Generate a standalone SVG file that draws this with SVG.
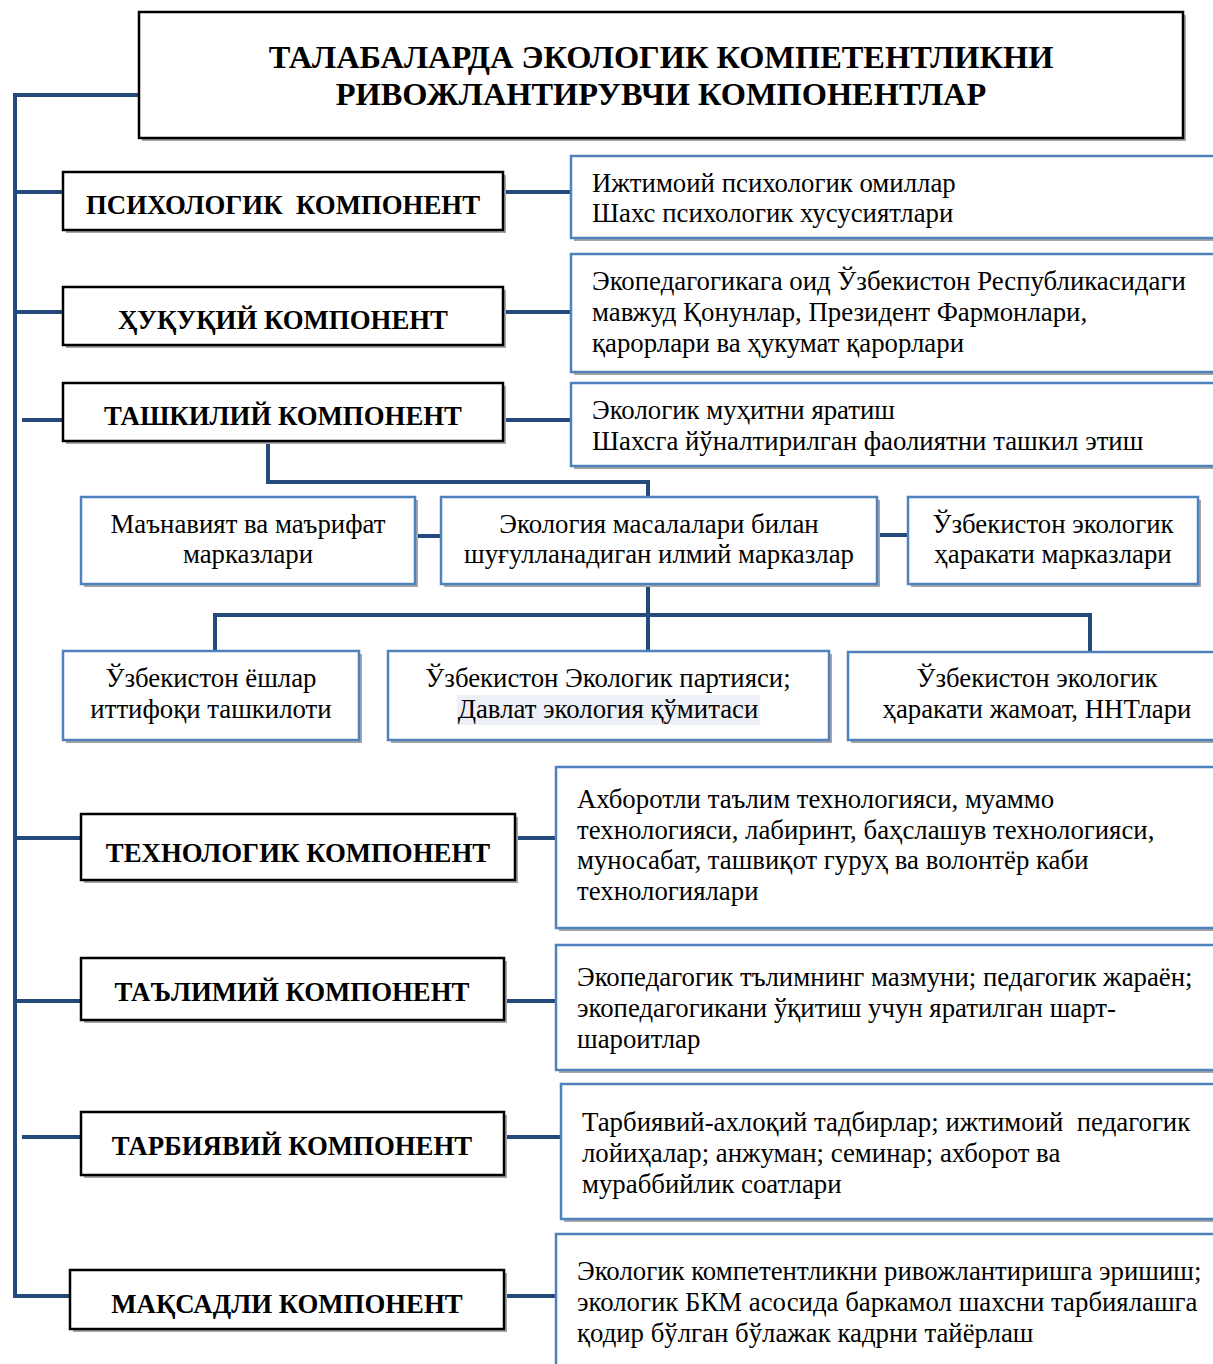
<svg xmlns="http://www.w3.org/2000/svg" width="1213" height="1364" viewBox="0 0 1213 1364">
<style>
.bg{fill:#fff}
.sh{fill:#a6a6a6}
.kb{fill:#fff;stroke:#000;stroke-width:2.5}
.bb{fill:#fff;stroke:#4f81bd;stroke-width:2.5}
.con{fill:none;stroke:#244a7c;stroke-width:4;stroke-linecap:butt;stroke-linejoin:miter}
.t{font-family:"Liberation Serif","Times New Roman",serif;font-size:26.8px;fill:#000}
.h{font-family:"Liberation Serif","Times New Roman",serif;font-size:26.8px;font-weight:bold;fill:#000;text-anchor:middle}
.ti{font-family:"Liberation Serif","Times New Roman",serif;font-size:32.4px;font-weight:bold;fill:#000;text-anchor:middle}
.c{text-anchor:middle}
</style>
<rect class="bg" x="0" y="0" width="1213" height="1364"/>

<g id="connectors">
<path class="con" d="M139,95 H15 V1296 H70"/>
<path class="con" d="M15,192 H63"/>
<path class="con" d="M503,192 H571"/>
<path class="con" d="M15,312 H63"/>
<path class="con" d="M503,312 H571"/>
<path class="con" d="M22,420 H63"/>
<path class="con" d="M503,420 H571"/>
<path class="con" d="M268,441 V482 H648 V497"/>
<path class="con" d="M415,536 H441"/>
<path class="con" d="M877,535 H908"/>
<path class="con" d="M648,584 V651"/>
<path class="con" d="M215,651 V615 H1090 V651"/>
<path class="con" d="M15,838 H81"/>
<path class="con" d="M515,838 H556"/>
<path class="con" d="M15,1001 H81"/>
<path class="con" d="M504,1001 H556"/>
<path class="con" d="M22,1137 H81"/>
<path class="con" d="M504,1137 H561"/>
<path class="con" d="M504,1296 H556"/>
</g>

<g id="title">
<rect class="sh" x="142" y="15" width="1044" height="126"/>
<rect class="kb" x="139" y="12" width="1044" height="126"/>
<text class="ti" x="661" y="68">ТАЛАБАЛАРДА ЭКОЛОГИК КОМПЕТЕНТЛИКНИ</text>
<text class="ti" x="661" y="105">РИВОЖЛАНТИРУВЧИ КОМПОНЕНТЛАР</text>
</g>

<g id="psych">
<rect class="sh" x="66" y="175" width="440" height="58"/>
<rect class="kb" x="63" y="172" width="440" height="58"/>
<text class="h" x="283" y="214" xml:space="preserve">ПСИХОЛОГИК  КОМПОНЕНТ</text>
</g>
<g id="psych-desc">
<rect class="sh" x="574" y="159" width="650" height="82"/>
<rect class="bb" x="571" y="156" width="650" height="82"/>
<text class="t" x="592" y="192">Ижтимоий психологик омиллар</text>
<text class="t" x="592" y="222">Шахс психологик хусусиятлари</text>
</g>

<g id="legal">
<rect class="sh" x="66" y="290" width="440" height="58"/>
<rect class="kb" x="63" y="287" width="440" height="58"/>
<text class="h" x="283" y="329">ҲУҚУҚИЙ КОМПОНЕНТ</text>
</g>
<g id="legal-desc">
<rect class="sh" x="574" y="257" width="650" height="118"/>
<rect class="bb" x="571" y="254" width="650" height="118"/>
<text class="t" x="592" y="290">Экопедагогикага оид Ўзбекистон Республикасидаги</text>
<text class="t" x="592" y="321">мавжуд Қонунлар, Президент Фармонлари,</text>
<text class="t" x="592" y="352">қарорлари ва ҳукумат қарорлари</text>
</g>

<g id="org">
<rect class="sh" x="66" y="386" width="440" height="58"/>
<rect class="kb" x="63" y="383" width="440" height="58"/>
<text class="h" x="283" y="425">ТАШКИЛИЙ КОМПОНЕНТ</text>
</g>
<g id="org-desc">
<rect class="sh" x="574" y="386" width="650" height="83"/>
<rect class="bb" x="571" y="383" width="650" height="83"/>
<text class="t" x="592" y="419">Экологик муҳитни яратиш</text>
<text class="t" x="592" y="450">Шахсга йўналтирилган фаолиятни ташкил этиш</text>
</g>

<g id="spirit">
<rect class="sh" x="84" y="500" width="334" height="87"/>
<rect class="bb" x="81" y="497" width="334" height="87"/>
<text class="t c" x="248" y="533">Маънавият ва маърифат</text>
<text class="t c" x="248" y="563">марказлари</text>
</g>
<g id="science">
<rect class="sh" x="444" y="500" width="436" height="87"/>
<rect class="bb" x="441" y="497" width="436" height="87"/>
<text class="t c" x="659" y="533">Экология масалалари билан</text>
<text class="t c" x="659" y="563">шуғулланадиган илмий марказлар</text>
</g>
<g id="movement">
<rect class="sh" x="911" y="500" width="290" height="87"/>
<rect class="bb" x="908" y="497" width="290" height="87"/>
<text class="t c" x="1053" y="533">Ўзбекистон экологик</text>
<text class="t c" x="1053" y="563">ҳаракати марказлари</text>
</g>

<g id="youth">
<rect class="sh" x="66" y="654" width="296" height="89"/>
<rect class="bb" x="63" y="651" width="296" height="89"/>
<text class="t c" x="211" y="687">Ўзбекистон ёшлар</text>
<text class="t c" x="211" y="718">иттифоқи ташкилоти</text>
</g>
<g id="party">
<rect class="sh" x="391" y="654" width="441" height="89"/>
<rect class="bb" x="388" y="651" width="441" height="89"/>
<rect x="457" y="695" width="303" height="30" fill="#eef0f7"/>
<text class="t c" x="608" y="687">Ўзбекистон Экологик партияси;</text>
<text class="t c" x="608" y="718">Давлат экология қўмитаси</text>
</g>
<g id="ngo">
<rect class="sh" x="851" y="655" width="370" height="88"/>
<rect class="bb" x="848" y="652" width="370" height="88"/>
<text class="t c" x="1037" y="687">Ўзбекистон экологик</text>
<text class="t c" x="1037" y="718">ҳаракати жамоат, ННТлари</text>
</g>

<g id="tech">
<rect class="sh" x="84" y="817" width="434" height="66"/>
<rect class="kb" x="81" y="814" width="434" height="66"/>
<text class="h" x="298" y="862">ТЕХНОЛОГИК КОМПОНЕНТ</text>
</g>
<g id="tech-desc">
<rect class="sh" x="559" y="770" width="665" height="161"/>
<rect class="bb" x="556" y="767" width="665" height="161"/>
<text class="t" x="577" y="808">Ахборотли таълим технологияси, муаммо</text>
<text class="t" x="577" y="839">технологияси, лабиринт, баҳслашув технологияси,</text>
<text class="t" x="577" y="869">муносабат, ташвиқот гуруҳ ва волонтёр каби</text>
<text class="t" x="577" y="900">технологиялари</text>
</g>

<g id="edu">
<rect class="sh" x="84" y="961" width="423" height="62"/>
<rect class="kb" x="81" y="958" width="423" height="62"/>
<text class="h" x="292" y="1001">ТАЪЛИМИЙ КОМПОНЕНТ</text>
</g>
<g id="edu-desc">
<rect class="sh" x="559" y="948" width="665" height="125"/>
<rect class="bb" x="556" y="945" width="665" height="125"/>
<text class="t" x="577" y="986">Экопедагогик тълимнинг мазмуни; педагогик жараён;</text>
<text class="t" x="577" y="1017">экопедагогикани ўқитиш учун яратилган шарт-</text>
<text class="t" x="577" y="1048">шароитлар</text>
</g>

<g id="upbringing">
<rect class="sh" x="84" y="1115" width="423" height="63"/>
<rect class="kb" x="81" y="1112" width="423" height="63"/>
<text class="h" x="292" y="1155">ТАРБИЯВИЙ КОМПОНЕНТ</text>
</g>
<g id="upbringing-desc">
<rect class="sh" x="564" y="1087" width="660" height="135"/>
<rect class="bb" x="561" y="1084" width="660" height="135"/>
<text class="t" x="582" y="1131" xml:space="preserve">Тарбиявий-ахлоқий тадбирлар; ижтимоий  педагогик</text>
<text class="t" x="582" y="1162">лойиҳалар; анжуман; семинар; ахборот ва</text>
<text class="t" x="582" y="1193">мураббийлик соатлари</text>
</g>

<g id="goal">
<rect class="sh" x="73" y="1273" width="434" height="59"/>
<rect class="kb" x="70" y="1270" width="434" height="59"/>
<text class="h" x="287" y="1313">МАҚСАДЛИ КОМПОНЕНТ</text>
</g>
<g id="goal-desc">
<rect class="sh" x="559" y="1237" width="665" height="140"/>
<rect class="bb" x="556" y="1234" width="665" height="140"/>
<text class="t" x="577" y="1280">Экологик компетентликни ривожлантиришга эришиш;</text>
<text class="t" x="577" y="1311">экологик БКМ асосида баркамол шахсни тарбиялашга</text>
<text class="t" x="577" y="1342">қодир бўлган бўлажак кадрни тайёрлаш</text>
</g>
</svg>
